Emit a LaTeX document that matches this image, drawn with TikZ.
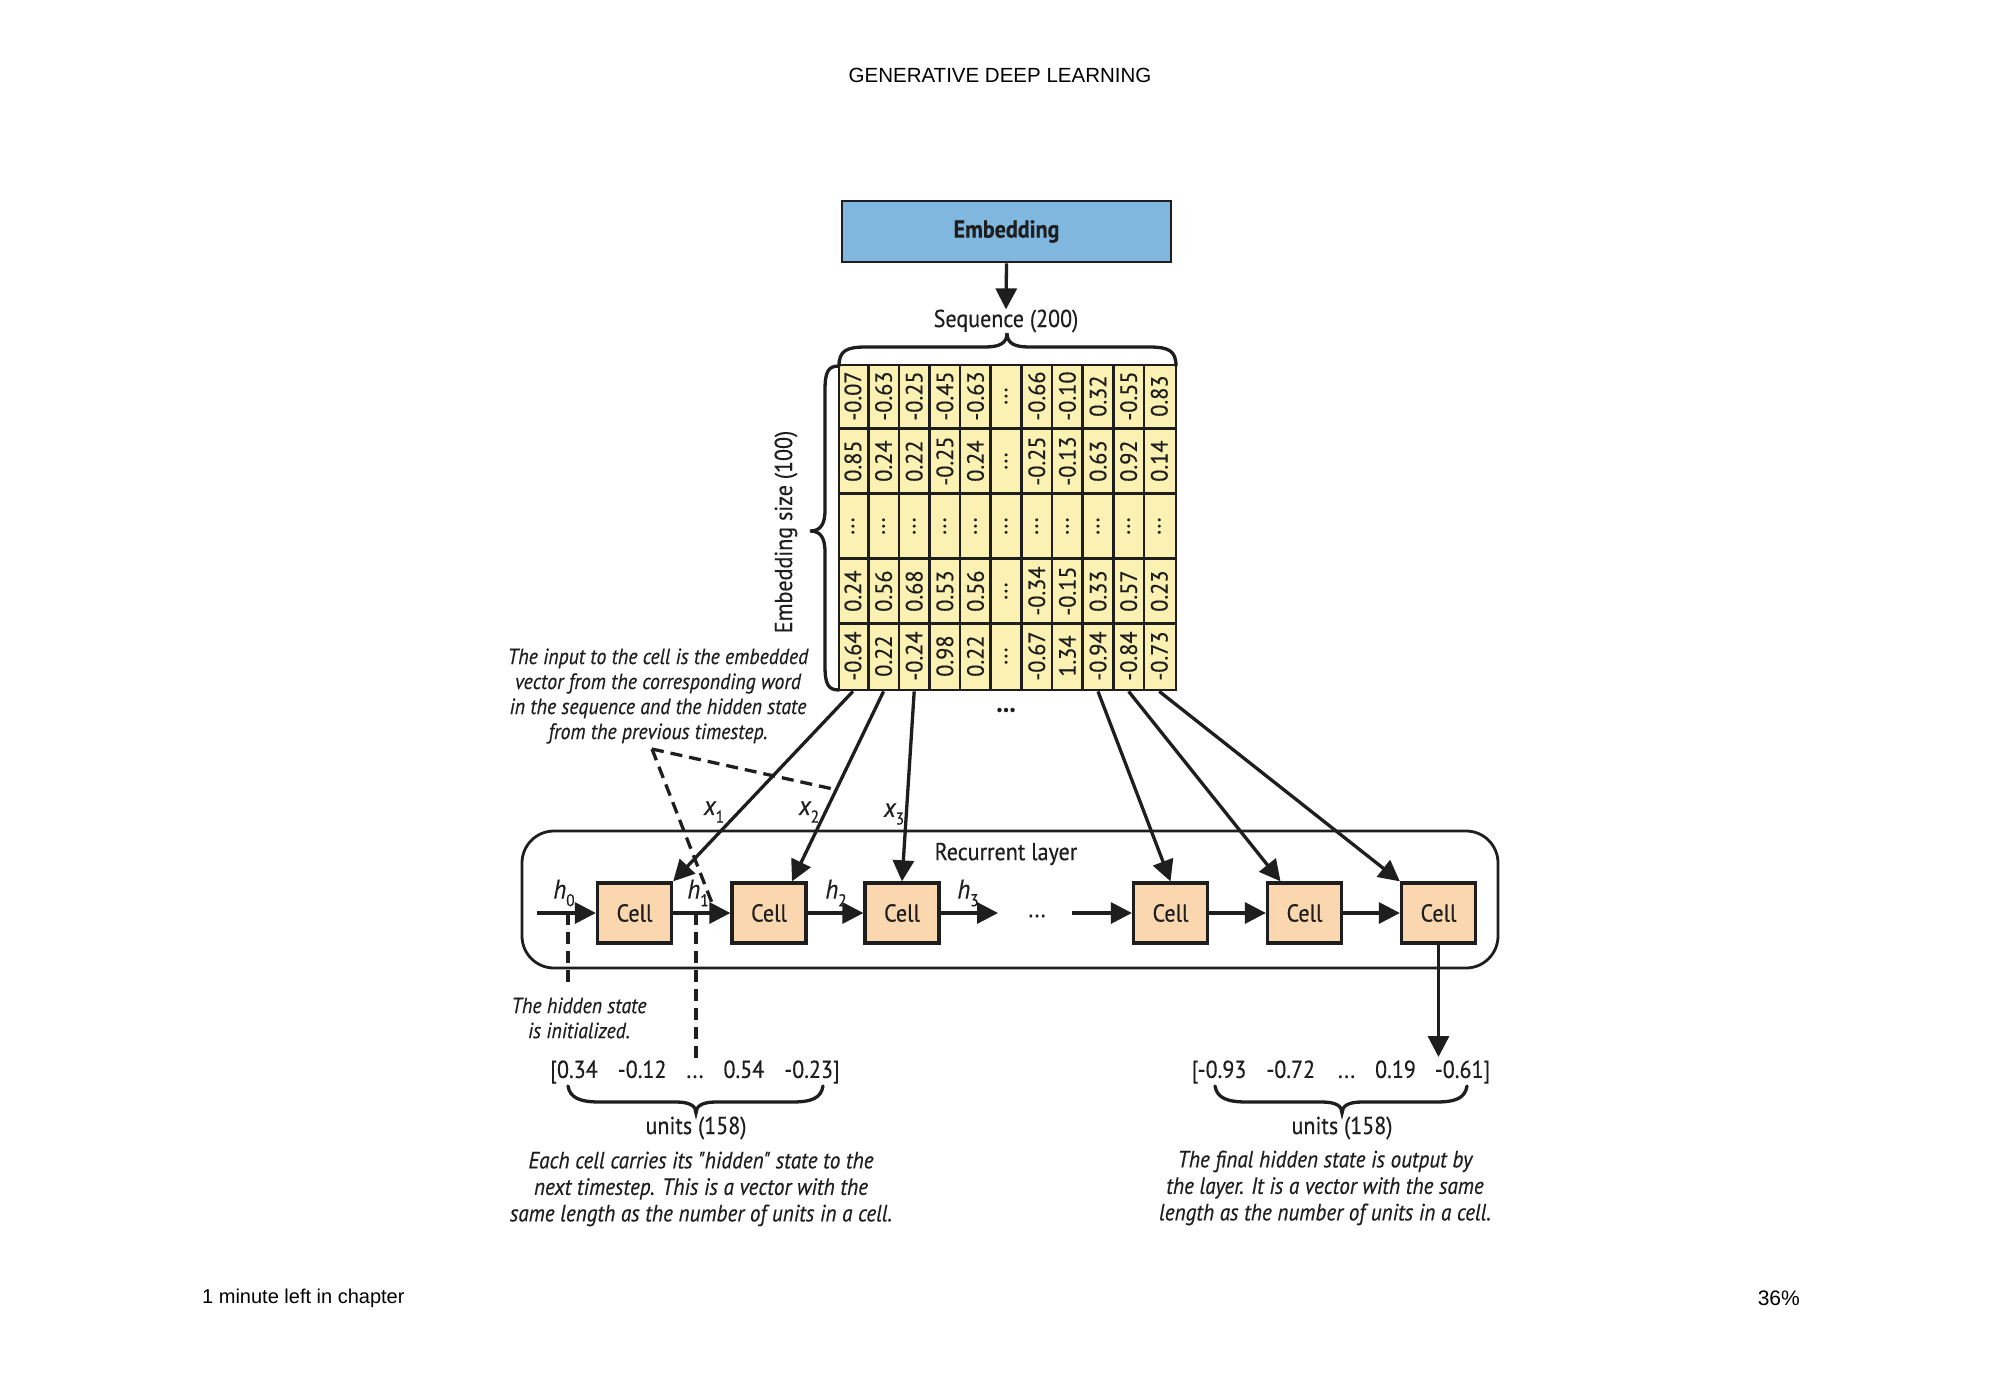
\documentclass[tikz,border=0pt]{standalone}
\usepackage{fontspec}
\setmainfont{PT Sans}
\newfontfamily\cond{PT Sans}[FakeStretch=0.9,FakeBold=0.4]
\newfontfamily\numfont{PT Sans}[FakeStretch=0.95,FakeBold=0.4]
\newfontfamily\hdrfont{Liberation Sans}
\usetikzlibrary{arrows.meta,calc}
\definecolor{embblue}{HTML}{80B7DE}
\definecolor{gridyel}{HTML}{FBF1B3}
\definecolor{cellpeach}{HTML}{FAD7AF}
\definecolor{ink}{HTML}{1E1E1E}
\newcommand\gdots{...}
\newcommand\hsub[2]{{\itshape #1}\raisebox{-0.28em}{\fontsize{17}{17}\selectfont #2}}
\begin{document}
\begin{tikzpicture}[x=1pt,y=-1pt,
  lab/.style={font=\cond\fontsize{24.5}{28}\selectfont, text=ink, inner sep=0pt},
  note/.style={font=\cond\itshape\fontsize{22}{25}\selectfont, align=center, text=ink, inner sep=0pt},
  hlab/.style={font=\cond\fontsize{27}{28}\selectfont, text=ink, inner sep=0pt},
  cellbox/.style={draw=ink, line width=3.3pt, fill=cellpeach, minimum width=74pt, minimum height=60pt, inner sep=0pt, font=\cond\fontsize{24.5}{28}\selectfont, text=ink},
  flow/.style={draw=ink, line width=3.3pt, -{Triangle[length=21pt,width=21pt]}},
  dashline/.style={draw=ink, line width=3.3pt, dash pattern=on 12pt off 7pt},
  bracepath/.style={draw=ink, line width=3.3pt, line cap=round},
  gridline/.style={draw=ink, line width=2.6pt},
  gridnum/.style={rotate=90, font=\numfont\fontsize{23.5}{23.5}\selectfont, inner sep=0pt, text=ink},
  pagetext/.style={font=\hdrfont\fontsize{20.5}{24}\selectfont, text=black, inner sep=0pt}
]
\useasboundingbox (0,0) rectangle (2000,1397);
\fill[white] (0,0) rectangle (2000,1397);

% page header / footer
\node[pagetext] (hdr) at (1000,75) {GENERATIVE DEEP LEARNING};
\node[pagetext, anchor=west, font=\hdrfont\fontsize{20}{24}\selectfont] (ftl) at (202,1298) {1 minute left in chapter};
\node[pagetext, anchor=east, font=\hdrfont\fontsize{21}{24}\selectfont] (ftr) at (1800,1298) {36\%};

% embedding
\node[draw=ink, line width=2.8pt, fill=embblue, minimum width=329pt, minimum height=61pt, inner sep=0pt,
      font=\cond\bfseries\fontsize{24.5}{28}\selectfont, text=ink] (emb) at (1006.5,231.5) {Embedding};
\node[lab] (seq) at (1006,321) {Sequence (200)};
\draw[flow] (emb.south) -- (seq.north);

% grid
\node[draw=ink, line width=2.8pt, fill=gridyel, minimum width=337pt, minimum height=325pt, inner sep=0pt] (grid) at (1007.5,527.5) {};
\foreach \k in {1,...,10}
  \draw[gridline] ($(grid.north west)+(\k*30.636,0)$) -- ($(grid.south west)+(\k*30.636,0)$);
\foreach \k in {1,...,4}
  \draw[gridline] ($(grid.north west)+(0,\k*65)$) -- ($(grid.north east)+(0,\k*65)$);

\foreach \v [count=\c] in {-0.07,-0.63,-0.25,-0.45,-0.63,\gdots,-0.66,-0.10,0.32,-0.55,0.83}
  \node[gridnum] (g-1-\c) at ($(grid.north west)+(\c*30.636-15.318,32.5)$) {\v};
\foreach \v [count=\c] in {0.85,0.24,0.22,-0.25,0.24,\gdots,-0.25,-0.13,0.63,0.92,0.14}
  \node[gridnum] (g-2-\c) at ($(grid.north west)+(\c*30.636-15.318,97.5)$) {\v};
\foreach \c in {1,...,11}
  \node[gridnum] (g-3-\c) at ($(grid.north west)+(\c*30.636-15.318,162.5)$) {\gdots};
\foreach \v [count=\c] in {0.24,0.56,0.68,0.53,0.56,\gdots,-0.34,-0.15,0.33,0.57,0.23}
  \node[gridnum] (g-4-\c) at ($(grid.north west)+(\c*30.636-15.318,227.5)$) {\v};
\foreach \v [count=\c] in {-0.64,0.22,-0.24,0.98,0.22,\gdots,-0.67,1.34,-0.94,-0.84,-0.73}
  \node[gridnum] (g-5-\c) at ($(grid.north west)+(\c*30.636-15.318,292.5)$) {\v};

% braces around grid
\draw[bracepath] (839,366) .. controls (839,351) and (846,347) .. (866,347) -- (985,347)
  .. controls (1000,347) and (1007,343) .. (1007,333)
  .. controls (1007,343) and (1014,347) .. (1029,347) -- (1149,347)
  .. controls (1169,347) and (1176,351) .. (1176,366);
\draw[bracepath] (839,366) .. controls (828,366) and (825,372) .. (825,390) -- (825,510)
  .. controls (825,525) and (820,531) .. (810,531)
  .. controls (820,531) and (825,537) .. (825,552) -- (825,666)
  .. controls (825,684) and (828,690) .. (839,690);
\node[lab, rotate=90] (esz) at (786,532) {Embedding size (100)};

\node[font=\cond\bfseries\fontsize{28}{28}\selectfont, text=ink, inner sep=0pt] (gdots) at (1006,710) {...};

% annotation
\node[note] (ann) at (658,696) {The input to the cell is the embedded\\vector from the corresponding word\\in the sequence and the hidden state\\from the previous timestep.};

% recurrent layer
\node[draw=ink, line width=2.8pt, rounded corners=32pt, minimum width=976pt, minimum height=137pt, inner sep=0pt] (rl) at (1010,899.5) {};
\node[lab] (rltext) at (1006,854) {Recurrent layer};

\node[cellbox] (cell1) at (634.5,913) {Cell};
\node[cellbox] (cell2) at (769,913) {Cell};
\node[cellbox] (cell3) at (902,913) {Cell};
\node[cellbox] (cell4) at (1170.5,913) {Cell};
\node[cellbox] (cell5) at (1304.5,913) {Cell};
\node[cellbox] (cell6) at (1438.5,913) {Cell};
\node[lab] (rdots) at (1037,916) {...};

\coordinate (h0s) at (537,913);
\coordinate (h3e) at (998,913);
\coordinate (h4s) at (1072,913);
\draw[flow] (h0s) -- (cell1.west);
\draw[flow] (cell1.east) -- (cell2.west);
\draw[flow] (cell2.east) -- (cell3.west);
\draw[flow] (cell3.east) -- (h3e);
\draw[flow] (h4s) -- (cell4.west);
\draw[flow] (cell4.east) -- (cell5.west);
\draw[flow] (cell5.east) -- (cell6.west);

\node[hlab] (lh0) at (564,893) {\hsub{h}{0}};
\node[hlab] (lh1) at (698,893) {\hsub{h}{1}};
\node[hlab] (lh2) at (836,893) {\hsub{h}{2}};
\node[hlab] (lh3) at (968,893) {\hsub{h}{3}};

% inputs from the grid
\coordinate (s1) at ($(grid.south west)+(15.318,0)$);
\coordinate (s2) at ($(grid.south west)+(45.954,0)$);
\coordinate (s3) at ($(grid.south west)+(76.59,0)$);
\coordinate (s9) at ($(grid.south west)+(260.406,0)$);
\coordinate (s10) at ($(grid.south west)+(291.042,0)$);
\coordinate (s11) at ($(grid.south west)+(321.678,0)$);
\draw[flow] (s1) -- (cell1.north east);
\draw[flow] (s2) -- ($(cell2.north)+(23,0)$);
\draw[flow] (s3) -- (cell3.north);
\draw[flow] (s9) -- (cell4.north);
\draw[flow] (s10) -- ($(cell5.north)+(-24,0)$);
\draw[flow] (s11) -- (cell6.north west);

\node[hlab] (lx1) at (714,812) {\hsub{x}{1}};
\node[hlab] (lx2) at (809,812) {\hsub{x}{2}};
\node[hlab] (lx3) at (894,814) {\hsub{x}{3}};

% dashed pointers
\coordinate (apex) at (652,749);
\coordinate (dA) at (833,789);
\coordinate (dB) at (712,903);
\draw[dashline] (apex) -- (dA);
\draw[dashline] (apex) -- (dB);
\coordinate (d0t) at (568,913);
\coordinate (d0b) at (568,983);
\coordinate (d1t) at (696,913);
\coordinate (d1b) at (696,1060);
\draw[dashline] (d0t) -- (d0b);
\draw[dashline] (d1t) -- (d1b);

% output arrow
\coordinate (outend) at (1438.5,1057);
\draw[flow] (cell6.south) -- (outend);

% bottom left
\node[note] (init) at (579,1018) {The hidden state\\is initialized.};
\node[lab] (vecl) at (695,1072) {[0.34\hspace{20pt}-0.12\hspace{20pt}...\hspace{20pt}0.54\hspace{20pt}-0.23]};
\draw[bracepath] (568,1086) .. controls (570,1098) and (580,1102) .. (600,1102) -- (676,1102)
  .. controls (690,1102) and (696,1106) .. (696,1113)
  .. controls (696,1106) and (702,1102) .. (716,1102) -- (792,1102)
  .. controls (812,1102) and (821,1098) .. (823,1086);
\node[lab] (unitsl) at (696,1128) {units (158)};
\node[note, font=\cond\itshape\fontsize{23.5}{26.5}\selectfont] (capl) at (701,1189) {Each cell carries its "hidden" state to the\\next timestep. This is a vector with the\\same length as the number of units in a cell.};

% bottom right
\node[lab] (vecr) at (1341,1072) {[-0.93\hspace{20pt}-0.72\hspace{23pt}...\hspace{20pt}0.19\hspace{19pt}-0.61]};
\draw[bracepath] (1215,1086) .. controls (1217,1098) and (1227,1102) .. (1247,1102) -- (1322,1102)
  .. controls (1336,1102) and (1342,1106) .. (1342,1113)
  .. controls (1342,1106) and (1348,1102) .. (1362,1102) -- (1436,1102)
  .. controls (1456,1102) and (1465,1098) .. (1467,1086);
\node[lab] (unitsr) at (1342,1128) {units (158)};
\node[note, font=\cond\itshape\fontsize{23.5}{26.5}\selectfont] (capr) at (1325,1188) {The final hidden state is output by\\the layer. It is a vector with the same\\length as the number of units in a cell.};
\end{tikzpicture}
\end{document}
